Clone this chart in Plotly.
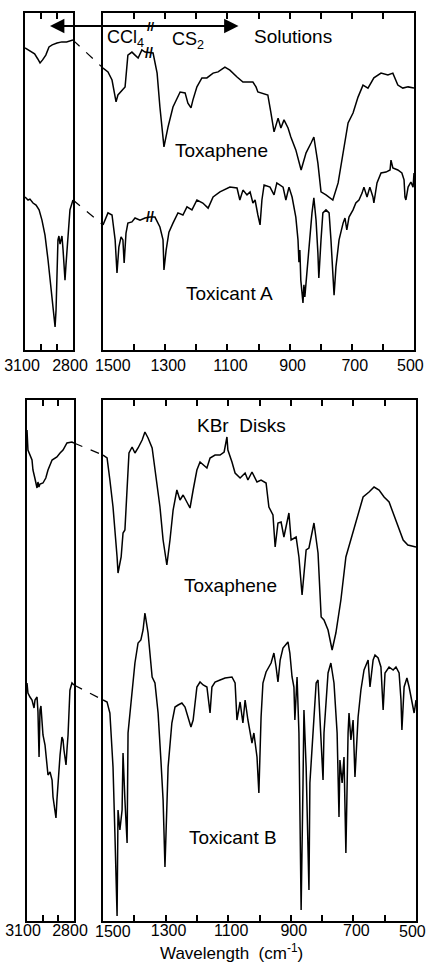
import numpy as np
import plotly.graph_objects as go

# ---------------- data (wavenumber cm-1, relative transmittance) ----------------
# Solutions, C-H stretch region
sol_tox_ch_wn = [3100, 3080, 3060, 3040, 3020, 3006, 2990, 2970, 2950, 2930, 2900, 2870, 2840, 2800]
sol_tox_ch_t = [100.7, 100, 99.3, 98.7, 97, 95.7, 96.7, 98.3, 101, 101.7, 102.3, 102.7, 102.7, 103.3]

sol_toxA_ch_wn = [3100, 3081, 3069, 3050, 3031, 3012, 2994, 2975, 2956, 2938, 2925, 2912, 2906, 2900,
                  2894, 2888, 2881, 2875, 2869, 2862, 2856, 2850, 2844, 2831, 2819, 2800]
sol_toxA_ch_t = [51, 50, 50.3, 49, 48.3, 46.7, 43.3, 38.3, 30, 20, 13.3, 7.7, 13.3, 26.7,
                 36.7, 38, 35.3, 36.7, 38, 33.3, 28.3, 23.3, 28.3, 39.3, 46.7, 50]

# Solutions, fingerprint region
sol_tox_fp_wn = [1500, 1484, 1471, 1458, 1452, 1439, 1429, 1420, 1407, 1397, 1387, 1375, 1365, 1339, 1326,
                 1317, 1304, 1291, 1275, 1252, 1236, 1227, 1217, 1211, 1198, 1182, 1166, 1146, 1130, 1108,
                 1092, 1069, 1050, 1018, 1008, 1002, 992, 970, 960, 950, 937, 928, 918, 905, 896,
                 880, 863, 847, 831, 822, 809, 799, 783, 761, 744, 728, 712, 696, 680, 664,
                 648, 629, 606, 584, 568, 552, 536, 519, 500]
sol_tox_fp_t = [94, 92.7, 90, 82.7, 85, 86.7, 87.7, 98.3, 99.3, 98.3, 97.3, 100, 99.3, 99, 92.3,
                81, 67.7, 74.3, 81, 86, 85.7, 82.3, 80.7, 83.3, 87.7, 90.7, 90.7, 92.3, 92.7, 94.3,
                93.3, 91, 89.3, 89.3, 87.7, 86, 85.7, 85, 79, 72.7, 77.3, 74, 76.7, 74, 71,
                66.7, 60, 65.7, 69, 71, 62.3, 52.7, 51.7, 50, 55.7, 65.7, 75.7, 79, 84.3, 88.3,
                87.3, 90.7, 92.3, 91.7, 92.3, 88.3, 87.3, 87.7, 87.3]

sol_toxA_fp_wn = [1500, 1484, 1471, 1461, 1455, 1449, 1442, 1436, 1432, 1426, 1420, 1407, 1397, 1381, 1365,
                  1349, 1333, 1317, 1307, 1304, 1297, 1288, 1275, 1259, 1243, 1230, 1214, 1198, 1179, 1162,
                  1146, 1124, 1092, 1069, 1060, 1050, 1037, 1027, 1018, 1011, 1002, 995, 989, 982, 963,
                  950, 941, 921, 912, 902, 892, 880, 873, 870, 867, 864, 857, 854, 851, 844,
                  838, 828, 822, 815, 809, 806, 799, 793, 783, 773, 767, 761, 757, 751, 741,
                  728, 722, 716, 709, 696, 687, 677, 667, 661, 651, 642, 632, 629, 619, 606,
                  590, 577, 574, 568, 552, 539, 532, 529, 526, 519, 510, 503, 500]
sol_toxA_fp_t = [41.7, 45.7, 45, 36.7, 25.7, 34.3, 37.7, 36.7, 29, 39, 42.3, 42.7, 44, 43.3, 44,
                 44.3, 44.3, 41, 36.7, 26.7, 33.3, 39.3, 42.3, 45.7, 45, 47.7, 46.7, 50, 49, 47.3,
                 51, 52.7, 54.3, 54, 50, 53.3, 51.7, 52.7, 49, 50, 45, 41.7, 50, 55, 54.3,
                 51.7, 55.7, 54.3, 50, 54.3, 51, 44.3, 36.7, 29.3, 33.3, 23.3, 15.7, 21.7, 17.7, 26.7,
                 35, 45.7, 50.7, 43.3, 32.3, 24, 36.7, 45.7, 46.7, 45.7, 36.7, 25.7, 18.3, 27.7, 36.7,
                 42.3, 44, 40, 44.3, 46.7, 49, 50, 52.3, 54.3, 51, 54.3, 51, 49, 55.7, 59,
                 59.3, 60, 63.3, 60.7, 60, 59, 56.7, 51, 50, 54.3, 56, 54.3, 59]

# KBr disks, C-H stretch region
kbr_tox_ch_wn = [3100, 3094, 3068, 3062, 3050, 3036, 3030, 3024, 3017, 2998, 2980, 2966, 2940, 2909,
                 2889, 2870, 2845, 2813, 2800]
kbr_tox_ch_t = [98.2, 94.2, 92.2, 90.2, 88.6, 86.6, 87.8, 86.8, 87.4, 87.6, 88.6, 90.2, 92.2, 92.8,
                93.6, 94.2, 95.6, 95.8, 95.6]

kbr_toxB_ch_wn = [3100, 3094, 3081, 3068, 3055, 3049, 3036, 3030, 3023, 3017, 3011, 3004, 2998, 2985, 2972,
                  2966, 2953, 2940, 2934, 2921, 2915, 2909, 2902, 2889, 2877, 2870, 2864, 2851, 2845, 2838,
                  2826, 2813, 2800]
kbr_toxB_ch_t = [47.6, 45.6, 44.8, 44.2, 42.6, 44.2, 44.8, 41.8, 32.8, 42.2, 43, 39.2, 37.2, 35.2, 30.2,
                 29.2, 29.8, 28.2, 24.8, 21.8, 20.6, 24.2, 28.2, 33.2, 36.8, 36.2, 34.2, 31.2, 34.2, 37.2,
                 46.2, 47.6, 47.2]

# KBr disks, fingerprint region
kbr_tox_fp_wn = [1500, 1487, 1478, 1468, 1455, 1452, 1442, 1436, 1430, 1423, 1417, 1407, 1398, 1388, 1375,
                 1366, 1356, 1343, 1334, 1318, 1308, 1296, 1286, 1276, 1264, 1254, 1244, 1232, 1222, 1212,
                 1200, 1190, 1180, 1168, 1158, 1142, 1126, 1113, 1104, 1101, 1088, 1078, 1062, 1046, 1037,
                 1024, 1008, 995, 979, 970, 957, 950, 941, 931, 922, 906, 899, 883, 874, 864,
                 851, 842, 826, 813, 803, 794, 781, 768, 756, 740, 724, 708, 692, 669, 650,
                 634, 618, 602, 586, 573, 557, 541, 526, 506, 500]
kbr_tox_fp_t = [93.2, 92.6, 88.2, 82.8, 72.8, 69.6, 72.8, 77.6, 78.2, 85.6, 93.6, 94.8, 93.6, 94.6, 96.2,
                97.8, 96.6, 94.6, 90.2, 82.8, 76.2, 71.2, 76.2, 82.2, 86.2, 84.2, 85.2, 83.6, 82.6, 86.2,
                90.2, 91.8, 91.2, 90.6, 92.6, 93.2, 93.2, 93.8, 96.8, 94.2, 91.8, 89.6, 88.6, 89.6, 88.2,
                89.8, 87.8, 88.2, 87.6, 82.8, 81.2, 74.8, 79.6, 79.8, 76.8, 81.6, 76.2, 76.8, 72.8, 65.2,
                74.2, 74.6, 79.6, 73.6, 60.8, 60.2, 58.2, 54.2, 57.6, 64.2, 72.8, 76.2, 79.6, 84.8, 85.8,
                86.8, 86.2, 84.8, 83.8, 81.6, 78.6, 76.2, 75.2, 74.8, 74.8]

kbr_toxB_fp_wn = [1500, 1487, 1478, 1468, 1462, 1455, 1452, 1446, 1439, 1436, 1430, 1423, 1420, 1407, 1398,
                  1388, 1379, 1372, 1366, 1356, 1343, 1334, 1324, 1315, 1308, 1302, 1296, 1292, 1280, 1270,
                  1260, 1248, 1238, 1228, 1219, 1212, 1200, 1190, 1180, 1168, 1158, 1152, 1142, 1126, 1110,
                  1088, 1078, 1072, 1062, 1053, 1046, 1037, 1024, 1018, 1008, 1002, 995, 989, 979, 963,
                  954, 947, 941, 934, 925, 909, 903, 896, 890, 887, 880, 874, 871, 867, 861,
                  858, 851, 845, 842, 839, 829, 819, 813, 807, 797, 794, 781, 772, 762, 752,
                  746, 743, 736, 730, 727, 724, 717, 714, 708, 701, 695, 685, 676, 666, 653,
                  647, 637, 631, 621, 612, 605, 599, 586, 573, 564, 554, 548, 545, 538, 529,
                  522, 513, 506, 503, 500]
kbr_toxB_fp_t = [44.2, 43.8, 41.6, 30.8, 17.6, 1.0, 22.2, 18.2, 22.2, 33.6, 24.2, 15.6, 37.6, 45.6, 51.6,
                 55.6, 56.2, 58.2, 61.6, 57.6, 48.8, 47.6, 41.6, 32.2, 24.2, 10.8, 20.8, 30.8, 39.6, 42.8,
                 43.2, 43.6, 42.8, 40.8, 38.8, 40.2, 46.8, 47.8, 47.2, 46.8, 41.6, 46.8, 47.8, 48.2, 48.6,
                 48.8, 47.6, 40.2, 43.8, 39.6, 44.2, 40.2, 35.6, 37.6, 32.8, 25.6, 40.8, 47.6, 49.8, 51.6,
                 53.6, 50.8, 47.8, 52.2, 54.6, 55.8, 53.6, 48.8, 46.8, 40.2, 48.8, 37.6, 20.8, 2.2, 27.6,
                 42.2, 30.8, 17.6, 6.2, 27.6, 37.6, 47.6, 48.2, 40.2, 28.2, 37.6, 49.6, 51.6, 47.6, 37.6,
                 20.8, 32.2, 27.6, 32.8, 24.2, 13.6, 37.6, 41.6, 36.2, 40.2, 28.8, 40.8, 46.2, 50.2, 52.2,
                 46.8, 52.2, 53.2, 52.6, 50.8, 42.2, 49.6, 50.8, 50.2, 50.8, 49.6, 44.2, 38.2, 46.8, 48.6,
                 46.8, 44.2, 41.6, 42.8, 44.2]

# tick marks / labels
ch_major = [3100, 2800]
ch_minor = [3000, 2900]
fp_major = [1300, 1100, 900, 700]
fp_minor = [1400, 1200, 1000, 800, 600]
fp_edge_labels = [1500, 500]

# ---------------- layout geometry ----------------
W, H = 428, 964
TOP_Y = [1 - 350 / H, 1 - 13 / H]
BOT_Y = [1 - 921 / H, 1 - 400 / H]
TOP_RANGE = [0, 112.33]
BOT_RANGE = [0, 104.2]

# note: axes run high->low, so a positive ticklabelshift moves labels to the left on screen
axes = {
    "1": dict(xdom=[25 / W, 73 / W], ydom=TOP_Y, xr=[3100, 2800], yr=TOP_RANGE, tv=ch_major, mv=ch_minor,
              shift=3, standoff=0),
    "2": dict(xdom=[103 / W, 414 / W], ydom=TOP_Y, xr=[1500, 500], yr=TOP_RANGE, tv=fp_major, mv=fp_minor,
              shift=-3, standoff=0),
    "3": dict(xdom=[27 / W, 74 / W], ydom=BOT_Y, xr=[3100, 2800], yr=BOT_RANGE, tv=ch_major, mv=ch_minor,
              shift=4, standoff=-6),
    "4": dict(xdom=[103 / W, 416 / W], ydom=BOT_Y, xr=[1500, 500], yr=BOT_RANGE, tv=fp_major, mv=fp_minor,
              shift=-3, standoff=-6),
}
TICKFONT = dict(family="Liberation Sans", size=16, color="black")

fig = go.Figure()
series = [
    ("1", sol_tox_ch_wn, sol_tox_ch_t), ("1", sol_toxA_ch_wn, sol_toxA_ch_t),
    ("2", sol_tox_fp_wn, sol_tox_fp_t), ("2", sol_toxA_fp_wn, sol_toxA_fp_t),
    ("3", kbr_tox_ch_wn, kbr_tox_ch_t), ("3", kbr_toxB_ch_wn, kbr_toxB_ch_t),
    ("4", kbr_tox_fp_wn, kbr_tox_fp_t), ("4", kbr_toxB_fp_wn, kbr_toxB_fp_t),
]


def suffix(k):
    return "" if k == "1" else k


for k, xs, ys in series:
    assert len(xs) == len(ys), (k, len(xs), len(ys))
    fig.add_trace(go.Scatter(x=xs, y=ys, mode="lines", xaxis="x" + suffix(k), yaxis="y" + suffix(k),
                             line=dict(color="black", width=1.5), showlegend=False, hoverinfo="skip"))

lay = {}
for k, a in axes.items():
    s = suffix(k)
    lay["xaxis" + s] = dict(domain=a["xdom"], range=a["xr"], anchor="y" + s, showline=True,
                            linecolor="black", linewidth=2, mirror="ticks", ticks="inside", ticklen=6,
                            tickwidth=1.5, tickcolor="black", tickmode="array", tickvals=a["tv"],
                            ticktext=[str(v) for v in a["tv"]],
                            minor=dict(tickmode="array", tickvals=a["mv"], ticks="inside", ticklen=6,
                                       tickwidth=1.5, tickcolor="black", showgrid=False),
                            showgrid=False, zeroline=False, ticklabelstandoff=a["standoff"],
                            ticklabelshift=a["shift"], tickangle=0, automargin=False,
                            ticklabeloverflow="allow", tickfont=TICKFONT)
    lay["yaxis" + s] = dict(domain=a["ydom"], range=a["yr"], anchor="x" + s, showline=True,
                            linecolor="black", linewidth=2, mirror=True, ticks="", showticklabels=False,
                            showgrid=False, zeroline=False, automargin=False)


def px(k, wn):
    a = axes[k]
    f = (wn - a["xr"][0]) / (a["xr"][1] - a["xr"][0])
    return a["xdom"][0] + f * (a["xdom"][1] - a["xdom"][0])


def py(k, t):
    a = axes[k]
    f = (t - a["yr"][0]) / (a["yr"][1] - a["yr"][0])
    return a["ydom"][0] + f * (a["ydom"][1] - a["ydom"][0])


# dashed connectors between the two spectral windows
shapes = []
for kl, kr, tl, tr in [("1", "2", sol_tox_ch_t, sol_tox_fp_t), ("1", "2", sol_toxA_ch_t, sol_toxA_fp_t),
                       ("3", "4", kbr_tox_ch_t, kbr_tox_fp_t), ("3", "4", kbr_toxB_ch_t, kbr_toxB_fp_t)]:
    shapes.append(dict(type="line", xref="paper", yref="paper",
                       x0=px(kl, 2800), y0=py(kl, tl[-1]), x1=px(kr, 1500), y1=py(kr, tr[0]),
                       line=dict(color="black", width=1.2, dash="dash")))

TXT = dict(family="Liberation Sans", color="black")
ann = []

# edge tick labels of the fingerprint windows (nudged off the frame corners)
for k, ylab in [("2", 365), ("4", 931)]:
    for v, xs in zip(fp_edge_labels, [10, -4]):
        ann.append(dict(text=str(v), x=v, xref="x" + suffix(k), y=1 - ylab / H, yref="paper", xshift=xs,
                        showarrow=False, xanchor="center", yanchor="middle", font=TICKFONT))


def label(text, x, y, size=19):
    ann.append(dict(text=text, x=x / W, y=1 - y / H, xref="paper", yref="paper", showarrow=False,
                    xanchor="center", yanchor="middle", font=dict(size=size, **TXT)))


label("CCl<sub>4</sub>", 126, 39, 18)
label("CS<sub>2</sub>", 188, 41, 18)
label("Solutions", 293, 37)
label("Toxaphene", 221, 150)
label("Toxicant A", 229, 293)
label("KBr\u00a0\u00a0Disks", 241, 425)
label("Toxaphene", 230, 585)
label("Toxicant B", 233, 837)
label("Wavelength\u00a0\u00a0(cm<sup>-1</sup>)", 232, 952, 17)

# solvent arrow (CCl4 <-> CS2)
ann.append(dict(text="", x=50 / W, y=1 - 26 / H, xref="paper", yref="paper", showarrow=True,
                ax=190, ay=0, arrowside="end+start", arrowhead=2, arrowsize=1.6, arrowwidth=1.8,
                arrowcolor="black"))
label("<b>//</b>", 151, 26, 13)

# solvent-change break marks on the solution spectra
for wn, xs, ys in [(1352, sol_tox_fp_wn, sol_tox_fp_t), (1350, sol_toxA_fp_wn, sol_toxA_fp_t)]:
    yv = float(np.interp(wn, xs[::-1], ys[::-1]))
    ann.append(dict(text="<b>//</b>", x=wn, y=yv, xref="x2", yref="y2", showarrow=False,
                    font=dict(size=14, **TXT), xanchor="center", yanchor="middle"))

fig.update_layout(width=W, height=H, margin=dict(l=0, r=0, t=0, b=0, autoexpand=False),
                  paper_bgcolor="white", plot_bgcolor="white", shapes=shapes, annotations=ann,
                  showlegend=False, **lay)

fig.write_html("out.html", config={"displayModeBar": False},
               post_script="document.body.style.margin='0';document.body.style.overflow='hidden';")
